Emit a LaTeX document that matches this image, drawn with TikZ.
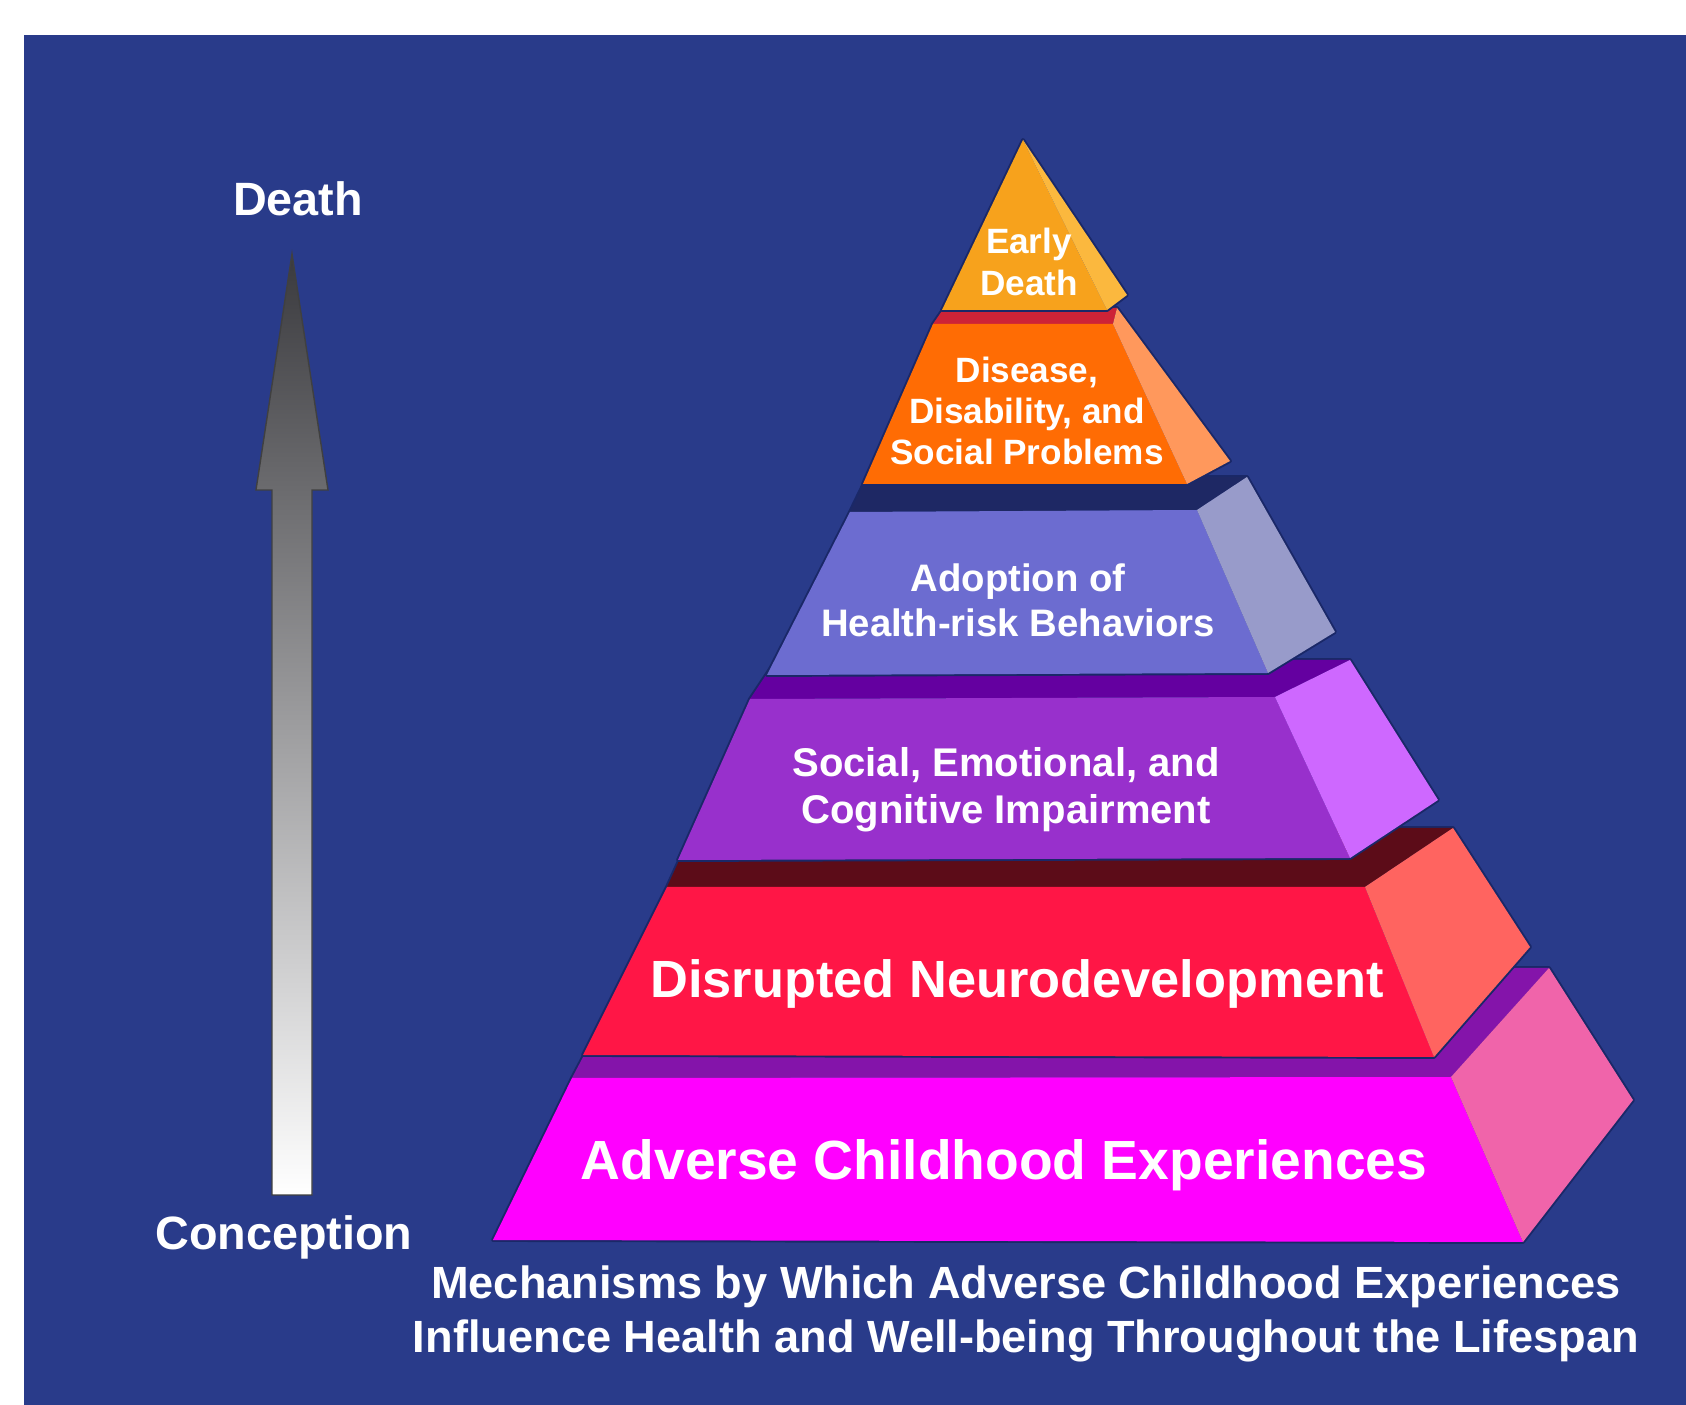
\documentclass[tikz,border=0pt]{standalone}
\usepackage{fontspec}
\setsansfont{Liberation Sans}
\usetikzlibrary{positioning}

\definecolor{bgblue}{RGB}{41,59,138}
\definecolor{edgeblue}{RGB}{26,40,104}
\definecolor{arrowdark}{RGB}{58,58,62}
% layer colours: front, side, top band
\definecolor{edfront}{RGB}{247,162,28}
\definecolor{edside}{RGB}{251,184,62}
\definecolor{disfront}{RGB}{255,108,4}
\definecolor{disside}{RGB}{255,152,92}
\definecolor{disband}{RGB}{205,35,55}
\definecolor{adpfront}{RGB}{108,108,208}
\definecolor{adpside}{RGB}{152,155,202}
\definecolor{adpband}{RGB}{30,40,100}
\definecolor{socfront}{RGB}{152,48,204}
\definecolor{socside}{RGB}{206,104,255}
\definecolor{socband}{RGB}{100,0,160}
\definecolor{neufront}{RGB}{255,22,70}
\definecolor{neuside}{RGB}{255,100,96}
\definecolor{neuband}{RGB}{92,12,24}
\definecolor{acefront}{RGB}{255,0,255}
\definecolor{aceside}{RGB}{240,100,170}
\definecolor{aceband}{RGB}{132,20,170}

\newcommand\lblfont[2]{\sffamily\bfseries\fontsize{#1}{#2}\selectfont}

\begin{document}
\begin{tikzpicture}[x=0.1mm,y=-0.1mm]
  \tikzset{
    every node/.style={text=white,inner sep=0pt,align=center},
    layertext/.style={font=\lblfont{#1}{1.17\dimexpr#1pt\relax}},
    endlabel/.style={font=\lblfont{13.3}{15}},
    rim/.style={draw=edgeblue,line width=1.1pt,line join=round}
  }

  \useasboundingbox (0,0) rectangle (1686,1405);
  \fill[bgblue] (24,35) rectangle (1686,1405);

  % lifespan arrow
  \coordinate (tail) at (292,1195);
  \coordinate (tip) at (292,254);
  \shade[top color=arrowdark,bottom color=white,draw=black!75,line width=0.4pt]
    (tail) -- ++(-20,0) -- (272,490) -- (256,490) -- (tip)
    -- (328,490) -- (312,490) -- (312,1195) -- cycle;
  \node[endlabel,anchor=base] (death) at (298,216) {Death};
  \node[endlabel,anchor=base] (conc) at (284,1250) {Conception};

  % layer 6
  \path[rim] (493,1240) -- (572,1078) -- (630,968) -- (1549,968) -- (1633,1100) -- (1523,1242) -- cycle;
  \fill[aceband] (572,1078) -- (1451,1077) -- (1549,968) -- (630,968) -- cycle;
  \fill[acefront] (572,1078) -- (1451,1077) -- (1523,1242) -- (493,1240) -- cycle;
  \fill[aceside] (1451,1077) -- (1549,968) -- (1633,1100) -- (1523,1242) -- cycle;
  % layer 5
  \path[rim] (583,1055) -- (667,887) -- (694,828) -- (1453,828) -- (1530,947) -- (1434,1057) -- cycle;
  \fill[neuband] (667,887) -- (1365,887) -- (1453,828) -- (694,828) -- cycle;
  \fill[neufront] (667,887) -- (1365,887) -- (1434,1057) -- (583,1055) -- cycle;
  \fill[neuside] (1365,887) -- (1453,828) -- (1530,947) -- (1434,1057) -- cycle;
  % layer 4
  \path[rim] (678,860) -- (750,699) -- (776,660) -- (1350,660) -- (1438,800) -- (1350,858) -- cycle;
  \fill[socband] (750,699) -- (1275,697) -- (1350,660) -- (776,660) -- cycle;
  \fill[socfront] (750,699) -- (1275,697) -- (1350,858) -- (678,860) -- cycle;
  \fill[socside] (1275,697) -- (1350,660) -- (1438,800) -- (1350,858) -- cycle;
  % layer 3
  \path[rim] (767,675) -- (850,512) -- (867,477) -- (1247,477) -- (1335,632) -- (1268,673) -- cycle;
  \fill[adpband] (850,512) -- (1197,510) -- (1247,477) -- (867,477) -- cycle;
  \fill[adpfront] (850,512) -- (1197,510) -- (1268,673) -- (767,675) -- cycle;
  \fill[adpside] (1197,510) -- (1247,477) -- (1335,632) -- (1268,673) -- cycle;
  % layer 2
  \path[rim] (863,484) -- (933,324) -- (944,308) -- (1117,308) -- (1230,461) -- (1187,484) -- cycle;
  \fill[disband] (933,324) -- (1113,324) -- (1117,308) -- (944,308) -- cycle;
  \fill[disfront] (933,324) -- (1113,324) -- (1187,484) -- (863,484) -- cycle;
  \fill[disside] (1113,324) -- (1117,308) -- (1230,461) -- (1187,484) -- cycle;
  % layer 1
  \path[rim] (942,310) -- (1023,140) -- (1127,295) -- (1107,310) -- cycle;
  \fill[edfront] (1023,140) -- (1107,310) -- (942,310) -- cycle;
  \fill[edside] (1023,140) -- (1127,295) -- (1107,310) -- cycle;

  % layer labels
  \node[layertext=10] (early) at (1029,262) {Early\\Death};
  \node[layertext=10] (disease) at (1027,411) {Disease,\\Disability, and\\Social Problems};
  \node[layertext=10.9] (adopt) at (1018,600) {Adoption of\\Health-risk Behaviors};
  \node[layertext=11.4] (social) at (1006,790) {Social, Emotional, and\\Cognitive Impairment};
  \node[layertext=14.9,anchor=base] (neuro) at (1017,998) {Disrupted Neurodevelopment};
  \node[layertext=15.7,anchor=base] (ace) at (1004,1180) {Adverse Childhood Experiences};

  % caption
  \node[font=\lblfont{12.85}{15.6}] (caption) at (1026,1314)
    {Mechanisms by Which Adverse Childhood Experiences\\Influence Health and Well-being Throughout the Lifespan};
\end{tikzpicture}
\end{document}
